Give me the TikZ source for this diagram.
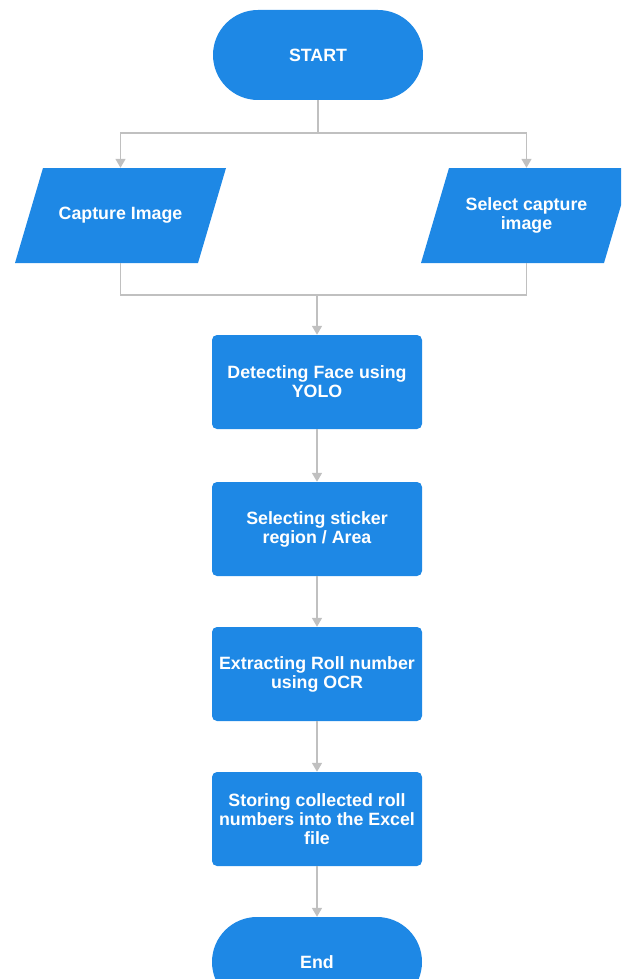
\documentclass[tikz,border=0pt]{standalone}
\usepackage{fontspec}
\setmainfont{Liberation Sans}
\usetikzlibrary{arrows.meta}
\definecolor{flowblue}{RGB}{30,136,229}
\definecolor{flowgray}{RGB}{192,192,192}
\begin{document}
\begin{tikzpicture}[x=1pt,y=-1pt,
  every node/.style={font=\bfseries\fontsize{17.8}{19}\selectfont, text=white, align=center, inner sep=0pt},
  term/.style={rectangle, rounded corners=45pt, fill=flowblue, minimum width=210pt, minimum height=90pt},
  proc/.style={rectangle, rounded corners=5pt, fill=flowblue, minimum width=210pt, minimum height=94pt},
  io/.style={rectangle, minimum width=211pt, minimum height=95pt,
    path picture={\fill[flowblue] (path picture bounding box.south west)
      -- ([xshift=28pt]path picture bounding box.north west)
      -- (path picture bounding box.north east)
      -- ([xshift=-28pt]path picture bounding box.south east) -- cycle;}},
  conn/.style={draw=flowgray, line width=1.6pt, -{Triangle[width=10pt,length=9pt]}},
  wire/.style={draw=flowgray, line width=1.6pt}]
\useasboundingbox (0,0) rectangle (621,979);
\clip (0,0) rectangle (621,979);
\node[term] (start) at (318,55) {START};
\node[io] (cap) at (120.5,215.5) {Capture Image};
\node[io] (sel) at (526.5,215.5) {Select capture\\image};
\node[proc] (d1) at (317,382) {Detecting Face using\\YOLO};
\node[proc] (d2) at (317,529) {Selecting sticker\\region / Area};
\node[proc] (d3) at (317,674) {Extracting Roll number\\using OCR};
\node[proc] (d4) at (317,819) {Storing collected roll\\numbers into the Excel\\file};
\node[term] (end) at (317,962) {End};
\coordinate (split) at (318,133);
\coordinate (merge) at (317,295);
\draw[wire] (start.south) -- (split);
\draw[conn] (split) -| (cap.north);
\draw[conn] (split) -| (sel.north);
\draw[wire] (cap.south) |- (merge);
\draw[wire] (sel.south) |- (merge);
\draw[conn] (merge) -- (d1.north);
\draw[conn] (d1) -- (d2);
\draw[conn] (d2) -- (d3);
\draw[conn] (d3) -- (d4);
\draw[conn] (d4) -- (end);
\end{tikzpicture}
\end{document}
